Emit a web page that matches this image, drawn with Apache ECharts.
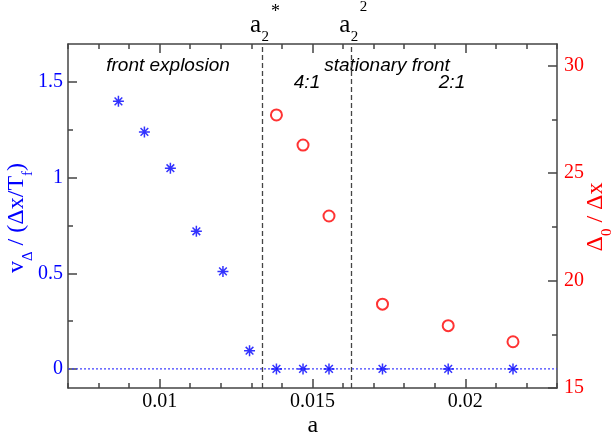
<!DOCTYPE html>
<html><head><meta charset="utf-8">
<script src="https://cdn.jsdelivr.net/npm/echarts@6/dist/echarts.min.js"></script>
<style>html,body{margin:0;padding:0;background:#fff}#c{width:615px;height:439px}</style>
</head><body><div id="c"></div>
<script>
// ---- data ----
const aStar = [0.00865, 0.0095, 0.01035, 0.0112, 0.01207, 0.01294, 0.01382, 0.01469, 0.01554, 0.01729, 0.01944, 0.02156];
const vStar = [1.40, 1.24, 1.05, 0.72, 0.51, 0.095, 0, 0, 0, 0, 0, 0];
const aCircle = [0.01382, 0.01469, 0.01554, 0.01729, 0.01944, 0.02156];
const deltaCircle = [27.7, 26.3, 23.0, 18.9, 17.9, 17.15];
const xMajorTicks = [0.01, 0.015, 0.02];
const leftMajorTicks = [0, 0.5, 1, 1.5];
const leftMinorTicks = [0.25, 0.75, 1.25];
const rightMajorTicks = [15, 20, 25, 30];
const rightMinorTicks = [17.5, 22.5, 27.5];
const boundaries = [0.01335, 0.01627];
const boundarySup = ['*', '2'];
const regionLabels = ['front explosion', 'stationary front', '4:1', '2:1'];

const SERIF = "'Liberation Serif', 'Times New Roman', serif";
const SANS = "'Liberation Sans', Arial, sans-serif";
const AX = {color: '#444', width: 1.5};
const BLUE = '#0000ff', RED = '#ff0000';
const XMIN = 0.007, XMAX = 0.023;

function xAx(pos, major, labels) {
  return {
    type: 'value', position: pos, min: XMIN, max: XMAX,
    interval: major ? undefined : 0.001,
    axisLine: {show: !major, onZero: false, lineStyle: AX},
    axisTick: major ? {show: true, inside: true, length: 9, customValues: xMajorTicks, lineStyle: AX}
                    : {show: true, inside: true, length: 5, lineStyle: AX},
    axisLabel: labels ? {show: true, customValues: xMajorTicks, color: '#000', fontFamily: SERIF, fontSize: 20, margin: 4,
                         formatter: v => String(v)} : {show: false},
    splitLine: {show: false}
  };
}
function yAx(pos, min, max, ticks, len, labels, color) {
  return {
    type: 'value', position: pos, min: min, max: max,
    axisLine: {show: len > 6, onZero: false, lineStyle: AX},
    axisTick: {show: true, inside: true, length: len, customValues: ticks, lineStyle: AX},
    axisLabel: labels ? {show: true, customValues: ticks, color: color, fontFamily: SERIF, fontSize: 20, margin: pos === 'left' ? 5 : 7,
                         formatter: v => String(v)} : {show: false},
    splitLine: {show: false}
  };
}

const chart = echarts.init(document.getElementById('c'), null, {renderer: 'canvas'});
const option = {
  animation: false,
  backgroundColor: '#fff',
  grid: {left: 68, right: 58, top: 44, bottom: 51, containLabel: false, outerBoundsMode: 'none'},
  xAxis: [xAx('bottom', false, false), xAx('bottom', true, true), xAx('top', false, false), xAx('top', true, false)],
  yAxis: [
    yAx('left', -0.1, 1.7, leftMajorTicks, 9, true, BLUE),
    yAx('left', -0.1, 1.7, leftMinorTicks, 5, false),
    yAx('right', 15, 31, rightMajorTicks, 9, true, RED),
    yAx('right', 15, 31, rightMinorTicks, 5, false)
  ],
  series: [
    {
      // zero reference line of the velocity series, across the whole axis range
      type: 'line', xAxisIndex: 0, yAxisIndex: 0, z: 3, silent: true,
      data: [[XMIN, 0], [XMAX, 0]], showSymbol: false, symbol: 'none',
      lineStyle: {color: '#4040ff', type: [2, 2], width: 1.2}
    },
    {
      type: 'scatter', xAxisIndex: 0, yAxisIndex: 0, z: 5,
      data: aStar.map((a, i) => [a, vStar[i]]),
      symbol: 'path://M5 0L5 10M0 5L10 5M1.5 1.5L8.5 8.5M1.5 8.5L8.5 1.5',
      symbolSize: 11,
      itemStyle: {color: BLUE, borderColor: BLUE, borderWidth: 1.5}
    },
    {
      type: 'scatter', xAxisIndex: 0, yAxisIndex: 2, z: 5,
      data: aCircle.map((a, i) => [a, deltaCircle[i]]),
      symbol: 'emptyCircle', symbolSize: 11,
      itemStyle: {color: RED, borderColor: RED, borderWidth: 1.4},
      markLine: {silent: true, symbol: 'none', label: {show: false}, animation: false, precision: 8,
        lineStyle: {color: '#444', type: [5, 3], width: 1.3},
        data: boundaries.map(b => ({xAxis: b}))}
    }
  ]
};
chart.setOption(option);

// ---- text annotations ----
const ctx = document.createElement('canvas').getContext('2d');
function tw(t, fs, fam) { ctx.font = fs + 'px ' + fam; return ctx.measureText(t).width; }
function txt(t, x, y, fs, fam, color, align, italic) {
  return {type: 'text', x: x, y: y, silent: true,
    style: {text: t, fill: color, fontSize: fs, fontFamily: fam, fontStyle: italic ? 'italic' : 'normal',
      align: align, textAlign: align, verticalAlign: 'middle', textVerticalAlign: 'middle'}};
}
// baseline -> middle offset
const MID = 0.31;
function rotatedTitle(pieces, cx, cy, fs, fss, color, subOff) {
  let W = 0;
  pieces.forEach(p => { W += tw(p.t, p.sub ? fss : fs, SERIF); });
  let x = -W / 2;
  const children = [];
  pieces.forEach(p => {
    const f = p.sub ? fss : fs;
    const yb = p.sub ? subOff : 0;
    children.push(txt(p.t, x, yb - MID * f, f, SERIF, color, 'left'));
    x += tw(p.t, f, SERIF);
  });
  return {type: 'group', x: cx, y: cy, rotation: Math.PI / 2, children: children};
}

const g = [];
boundaries.forEach((b, i) => {
  const X = chart.convertToPixel({xAxisIndex: 0, yAxisIndex: 0}, [b, 0])[0];
  g.push(txt('a', X - 1, 33.5 - MID * 25, 25, SERIF, '#000', 'right'));
  g.push(txt('2', X - 0.5, 41.7 - MID * 15, 15, SERIF, '#000', 'left'));
  if (boundarySup[i] === '*') g.push(txt('*', X + 9, 12, 18, SERIF, '#000', 'left'));
  else g.push(txt(boundarySup[i], X + 8.5, 11.7 - MID * 15, 15, SERIF, '#000', 'left'));
});
g.push(txt(regionLabels[0], 168, 72 - MID * 19, 19, SANS, '#000', 'center', true));
g.push(txt(regionLabels[1], 387, 72 - MID * 19, 19, SANS, '#000', 'center', true));
g.push(txt(regionLabels[2], 307, 88.5 - MID * 19, 19, SANS, '#000', 'center', true));
g.push(txt(regionLabels[3], 452, 88.5 - MID * 19, 19, SANS, '#000', 'center', true));
g.push(txt('a', 312.8, 433 - MID * 24, 24, SERIF, '#000', 'center'));
g.push(rotatedTitle([{t: 'v'}, {t: 'Δ', sub: true}, {t: ' / (Δx/T'}, {t: 'f', sub: true}, {t: ')'}], 24, 218, 24, 15, BLUE, 9));
g.push(rotatedTitle([{t: 'Δ'}, {t: '0', sub: true}, {t: ' / Δx'}], 603, 217, 24, 15, RED, 9));
chart.setOption({graphic: {elements: g}});
</script>
</body></html>
